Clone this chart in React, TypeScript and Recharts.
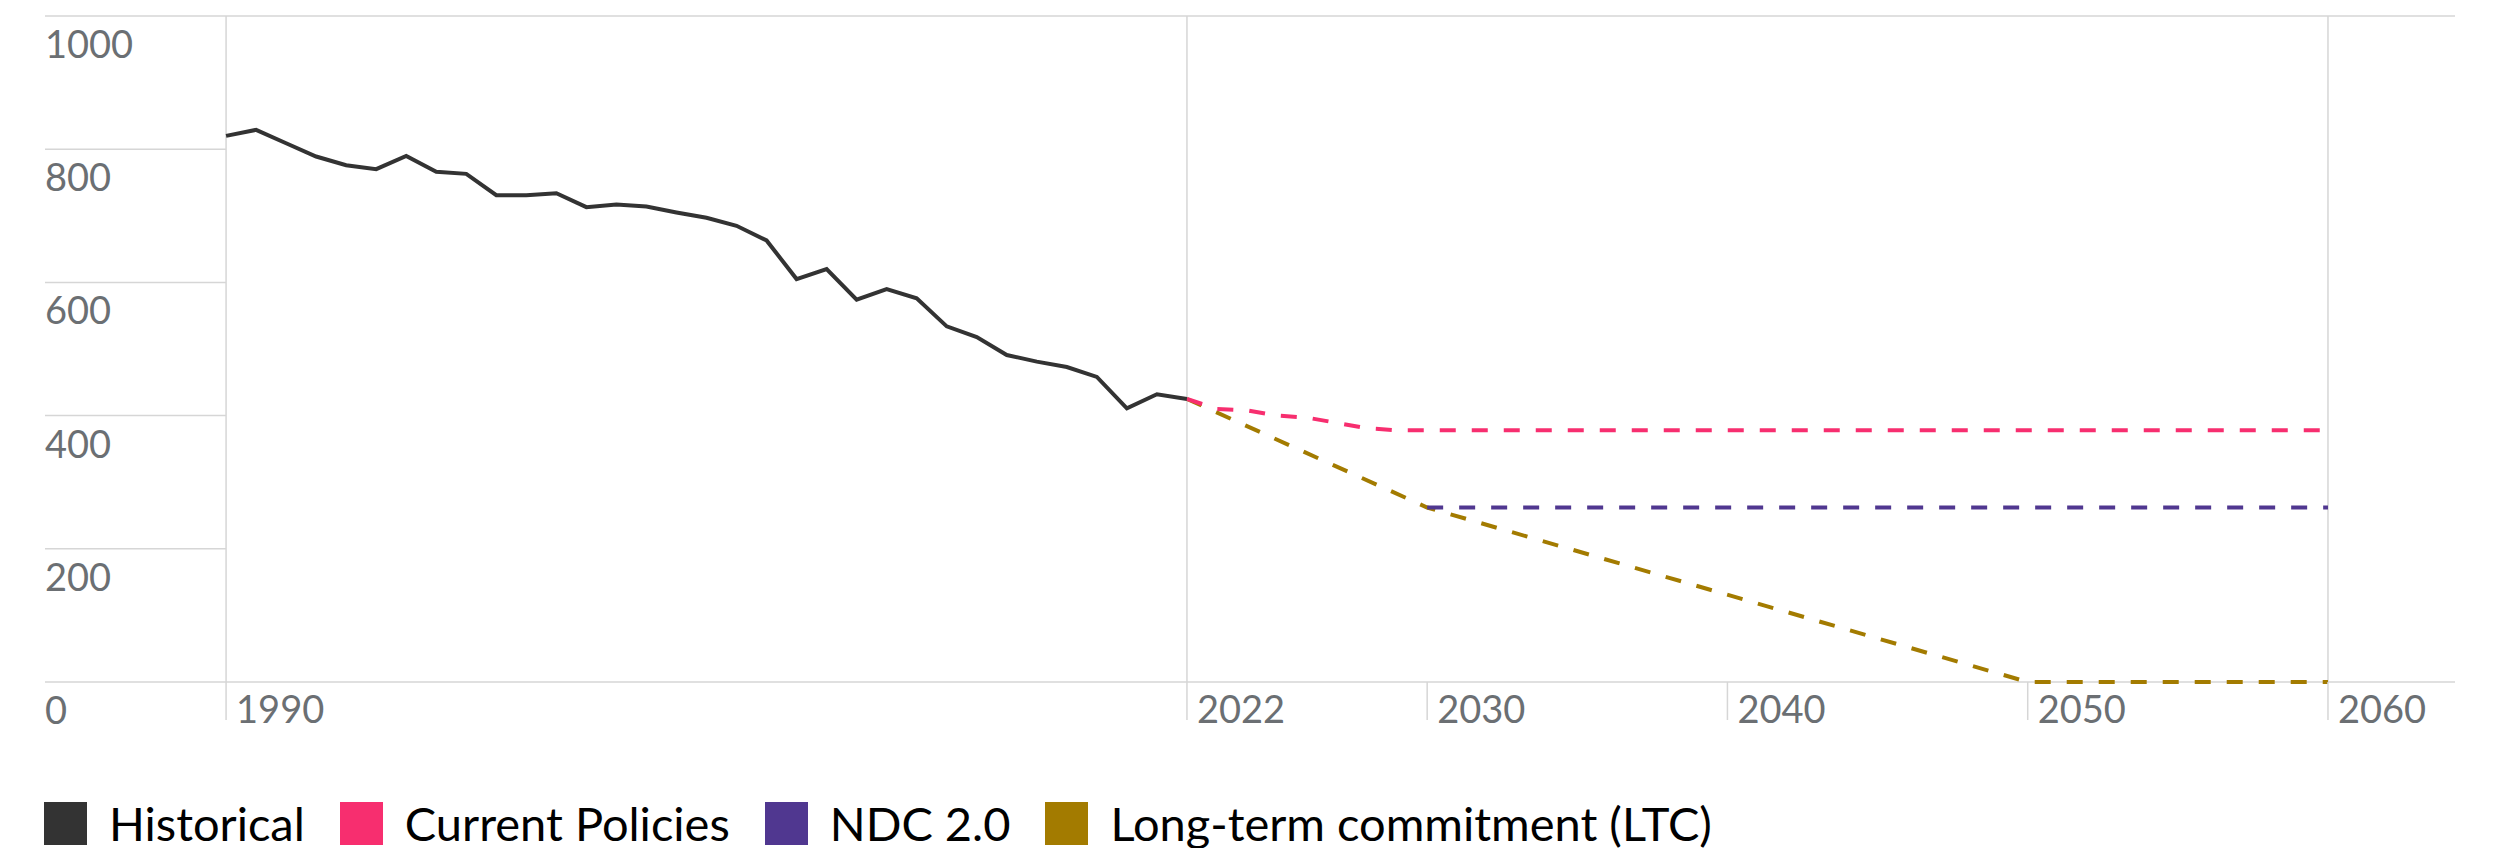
import React from 'react';
import { LineChart, Line, XAxis, YAxis, ReferenceLine } from 'recharts';

const historicalYears = [
  1990, 1991, 1992, 1993, 1994, 1995, 1996, 1997, 1998, 1999, 2000, 2001, 2002, 2003, 2004, 2005, 2006,
  2007, 2008, 2009, 2010, 2011, 2012, 2013, 2014, 2015, 2016, 2017, 2018, 2019, 2020, 2021, 2022,
];
const historicalValues = [
  820, 829, 809, 789, 776, 770, 790, 766, 763, 731, 731, 734, 713, 717, 714, 705, 697,
  685, 663, 605, 620, 574, 590, 576, 534, 518, 491, 481, 473, 458, 411, 432, 425,
];

const currentPolicyYears = [2022, 2023, 2024, 2025, 2026, 2027, 2028, 2029, 2030, 2060];
const currentPolicyValues = [425, 410, 408, 400, 397, 389, 381, 378, 378, 378];

const ndcYears = [2030, 2060];
const ndcValues = [262, 262];

const ltcYears = [2022, 2030, 2050, 2060];
const ltcValues = [425, 262, 0, 0];

const xTicks = [1990, 2022, 2030, 2040, 2050, 2060];
const yTicks = [0, 200, 400, 600, 800, 1000];

const seriesNames = ['Historical', 'Current Policies', 'NDC 2.0', 'Long-term commitment (LTC)'];
const seriesColors = ['#333333', '#f72e6f', '#503790', '#a37b00'];

const toPoints = (years: number[], values: number[]) =>
  years.map((year, i) => ({ year, value: values[i] }));

const historical = toPoints(historicalYears, historicalValues);
const currentPolicies = toPoints(currentPolicyYears, currentPolicyValues);
const ndc = toPoints(ndcYears, ndcValues);
const ltc = toPoints(ltcYears, ltcValues);

const FONT = 'Lato, "Open Sans", sans-serif';
const GRID = '#d6d6d6';
const LABEL = '#6b6f73';
const X_MIN = 1983.97;
const X_MAX = 2064.23;

const XTick = (props: any) => {
  const { x, y, payload } = props;
  return (
    <text x={x + 10} y={y - 14} fill={LABEL} fontSize={38} fontFamily={FONT} dominantBaseline="central">
      {payload.value}
    </text>
  );
};

const YTick = (props: any) => {
  const { y, payload } = props;
  return (
    <text x={45} y={y + 27} fill={LABEL} fontSize={38} fontFamily={FONT} dominantBaseline="central">
      {payload.value}
    </text>
  );
};

const App = () => {
  return (
    <div style={{ position: 'absolute', left: 0, top: 0, width: 2500, height: 848, background: '#fff' }}>
      <LineChart width={2500} height={760} margin={{ top: 16, right: 45, left: 44, bottom: 38 }}>
        <XAxis
          type="number"
          dataKey="year"
          domain={[X_MIN, X_MAX]}
          ticks={xTicks}
          allowDataOverflow
          axisLine={false}
          tickSize={38}
          tickLine={{ stroke: GRID, strokeWidth: 1.5 }}
          tick={<XTick />}
          height={40}
        />
        <YAxis
          domain={[0, 1000]}
          ticks={yTicks}
          interval={0}
          width={1}
          axisLine={false}
          tickLine={false}
          tick={<YTick />}
        />
        <ReferenceLine y={1000} stroke={GRID} strokeWidth={1.5} />
        <ReferenceLine y={0} stroke={GRID} strokeWidth={1.5} />
        {yTicks.slice(1, -1).map((v) => (
          <ReferenceLine key={v} segment={[{ x: X_MIN, y: v }, { x: 1990, y: v }]} stroke={GRID} strokeWidth={1.5} />
        ))}
        <ReferenceLine x={1990} stroke={GRID} strokeWidth={1.5} />
        <ReferenceLine x={2022} stroke={GRID} strokeWidth={1.5} />
        <ReferenceLine x={2060} stroke={GRID} strokeWidth={1.5} />
        <Line data={ltc} dataKey="value" name={seriesNames[3]} stroke={seriesColors[3]} strokeWidth={4}
          strokeDasharray="16 16" dot={false} isAnimationActive={false} />
        <Line data={ndc} dataKey="value" name={seriesNames[2]} stroke={seriesColors[2]} strokeWidth={4}
          strokeDasharray="16 16" dot={false} isAnimationActive={false} />
        <Line data={currentPolicies} dataKey="value" name={seriesNames[1]} stroke={seriesColors[1]} strokeWidth={4}
          strokeDasharray="16 16" dot={false} isAnimationActive={false} />
        <Line data={historical} dataKey="value" name={seriesNames[0]} stroke={seriesColors[0]} strokeWidth={4}
          dot={false} isAnimationActive={false} />
      </LineChart>
      <div style={{ position: 'absolute', left: 44, top: 802, display: 'flex', alignItems: 'center', fontFamily: FONT }}>
        {seriesNames.map((name, i) => (
          <div key={name} style={{ display: 'flex', alignItems: 'center', marginRight: 35 }}>
            <div style={{ width: 43, height: 43, background: seriesColors[i], marginRight: 22 }} />
            <span style={{ fontSize: 47, color: '#000', lineHeight: '43px' }}>{name}</span>
          </div>
        ))}
      </div>
    </div>
  );
};

export default App;
